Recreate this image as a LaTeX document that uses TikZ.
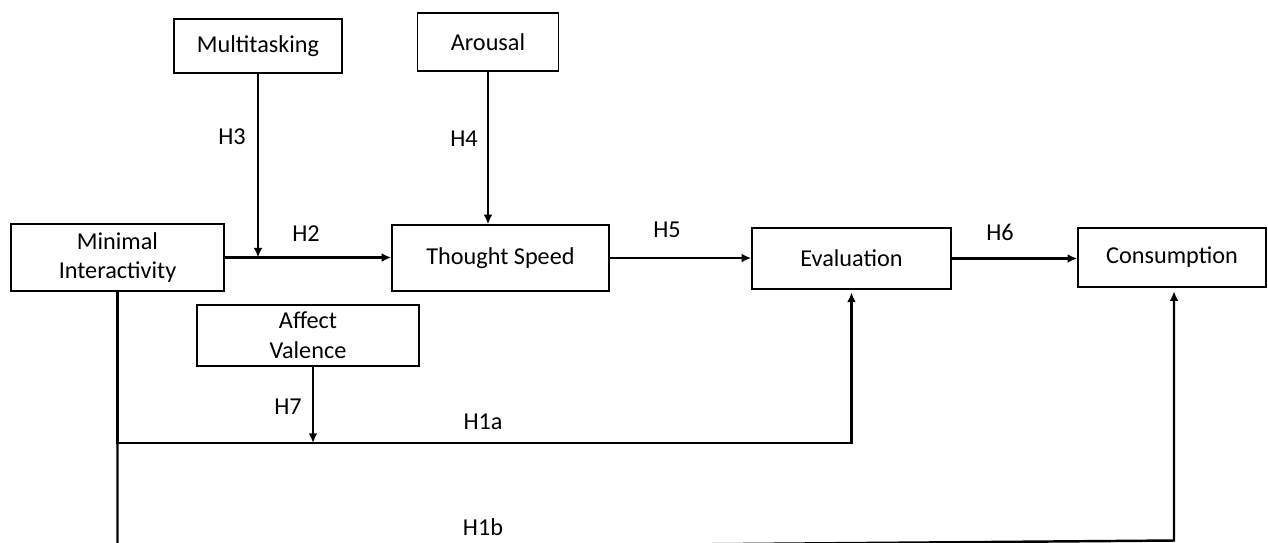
\documentclass[tikz,border=0pt]{standalone}
\usepackage{fontspec}
\setmainfont{Carlito}
\usetikzlibrary{arrows.meta}
\begin{document}
\begin{tikzpicture}[x=0.02cm,y=-0.02cm,
  box/.style={draw, line width=0.85pt, inner sep=0pt, align=center, font=\fontsize{13.8}{17}\selectfont},
  conn/.style={line width=1.4pt, line join=miter},
  arr/.style={conn, -{Latex[length=5.5pt,width=5pt]}},
  lab/.style={font=\fontsize{13.8}{16}\selectfont, inner sep=0pt}]
\useasboundingbox (0,0) rectangle (1268,542);
% boxes
\node[box, minimum width=3.36cm, minimum height=1.08cm] (mt) at (258,46) {Multitasking};
\node[box, minimum width=2.82cm, minimum height=1.16cm] (ar) at (488,42) {Arousal};
\node[box, minimum width=4.26cm, minimum height=1.34cm] (mi) at (117.5,257.5) {Minimal\\Interactivity};
\node[box, minimum width=4.34cm, minimum height=1.32cm] (ts) at (500.5,258) {Thought Speed};
\node[box, minimum width=3.98cm, minimum height=1.22cm] (ev) at (851.5,258.5) {Evaluation};
\node[box, minimum width=3.76cm, minimum height=1.18cm] (co) at (1172,257.5) {Consumption};
\node[box, minimum width=4.44cm, minimum height=1.22cm] (av) at (308,335.5) {Affect\\Valence};
% helper coordinates
\coordinate (h2y) at (0,257.5);
\coordinate (h1a) at (0,443);
\coordinate (j7) at (313,443);
\coordinate (b1) at (117.5,549);
\coordinate (b2) at (1174,540.5);
% connectors
\draw[arr] (mi.east) -- (mi.east -| ts.west);
\draw[arr] (mt.south) -- (mt.south |- h2y);
\draw[arr] (ar.south) -- (ar.south |- ts.north);
\draw[arr] (ts.east) -- (ts.east -| ev.west);
\draw[arr] (ev.east) -- (ev.east -| co.west);
\draw[arr, shorten >=1.5pt] (mi.south) -- (mi.south |- h1a) -| (ev.south);
\draw[arr] (av.south -| j7) -- (j7);
\draw[arr, shorten >=2pt] (mi.south |- h1a) -- (b1) -- (b2) -- (b2 |- co.south);
% labels
\node[lab] (l3) at (232,137) {H3};
\node[lab] (l4) at (464,139) {H4};
\node[lab] (l2) at (306,234) {H2};
\node[lab] (l5) at (667,230) {H5};
\node[lab] (l6) at (1000,232) {H6};
\node[lab] (l7) at (288,407) {H7};
\node[lab] (l1a) at (483,422) {H1a};
\node[lab] (l1b) at (483,527) {H1b};
\end{tikzpicture}
\end{document}
